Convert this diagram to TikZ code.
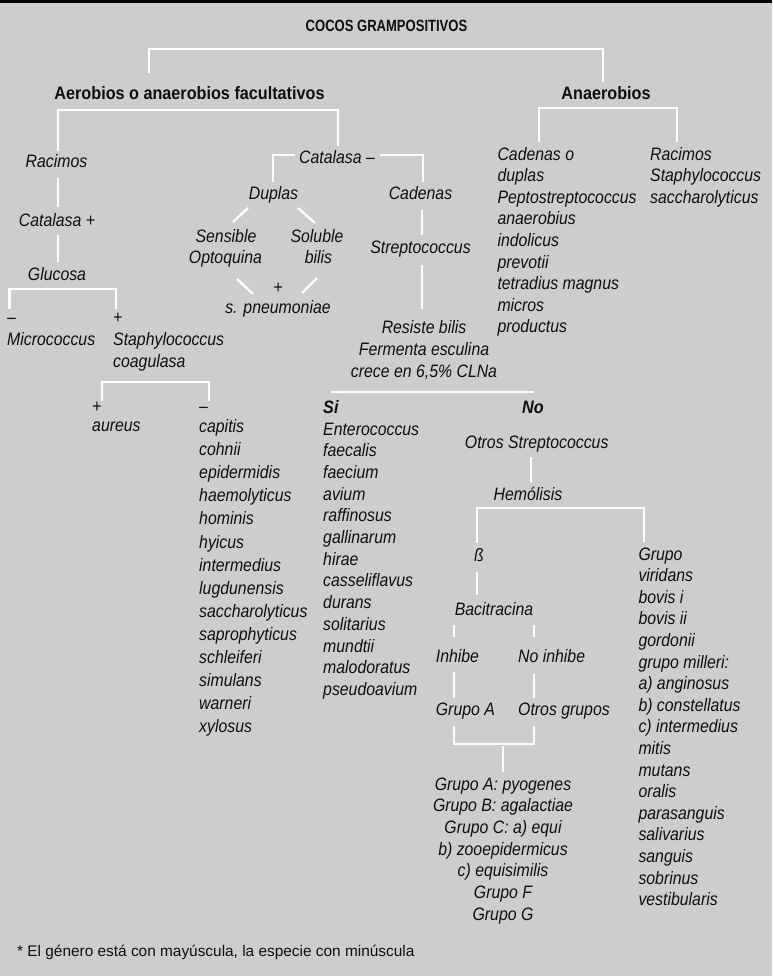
\documentclass[tikz,border=0pt]{standalone}
\usepackage{fontspec}
\setmainfont[FakeStretch=0.88]{Liberation Sans}
\newfontfamily\hdfont[FakeStretch=0.9]{Liberation Sans}
\newfontfamily\ttlfont[FakeStretch=0.8]{Liberation Sans}
\newfontfamily\ftfont{Liberation Sans}
\definecolor{bgc}{RGB}{205,205,205}
\definecolor{ink}{RGB}{15,15,15}
\tikzset{
  it/.style={inner sep=0pt, text=ink, font=\fontsize{18}{21}\selectfont\itshape},
  hd/.style={inner sep=0pt, text=ink, font=\hdfont\bfseries\fontsize{18}{21}\selectfont},
  hdit/.style={inner sep=0pt, text=ink, font=\hdfont\bfseries\itshape\fontsize{18}{21}\selectfont},
  ttl/.style={inner sep=0pt, text=ink, font=\ttlfont\bfseries\fontsize{16.3}{19}\selectfont},
  ft/.style={inner sep=0pt, text=ink, font=\ftfont\fontsize{15.4}{18}\selectfont},
  L/.style={anchor=base west},
  C/.style={anchor=base},
  wl/.style={draw=white, line width=2.3pt}
}
\begin{document}
\begin{tikzpicture}[x=1pt,y=-1pt]
\useasboundingbox (0,0) rectangle (772,976);
\fill[bgc] (0,0) rectangle (772,976);
\fill[black] (0,0) rectangle (772,3.5);

% ---------- texts ----------
\node[ttl,C] (title) at (386.5,32) {COCOS GRAMPOSITIVOS};
\node[hd,C] (aer) at (189.5,100) {Aerobios o anaerobios facultativos};
\node[hd,C] (anaer) at (606,100) {Anaerobios};

\node[it,C] (racimos) at (56.5,168) {Racimos};
\node[it,C] (catp) at (57,226) {Catalasa +};
\node[it,C] (gluc) at (57,280) {Glucosa};
\node[it,L] (minA) at (7,323) {–};
\node[it,L] (micro) at (7,345) {Micrococcus};
\node[it,L] (plusA) at (113,323) {+};
\node[it,L] (staph) at (113,345) {Staphylococcus};
\node[it,L] (coag) at (113,367) {coagulasa};
\node[it,L] (plusB) at (92,412) {+};
\node[it,L] (aureus) at (92,431.5) {aureus};
\node[it,L] (minB) at (199,412) {–};
\foreach \t [count=\i from 0] in {capitis,cohnii,epidermidis,haemolyticus,hominis,hyicus,intermedius,lugdunensis,saccharolyticus,saprophyticus,schleiferi,simulans,warneri,xylosus}
  \node[it,L] (neg\i) at (199,{432.5+23.1*\i}) {\t};

\node[it,L] (catm) at (299,164) {Catalasa –};
\node[it,C] (duplas) at (273.5,199.5) {Duplas};
\node[it,C] (cadenas) at (420.5,200) {Cadenas};
\node[it,C] (sens) at (226,242) {Sensible};
\node[it,C] (opto) at (225.5,263) {Optoquina};
\node[it,C] (solu) at (317,242) {Soluble};
\node[it,C] (bilis) at (318.5,263) {bilis};
\node[it,C] (plusC) at (278,293) {+};
\node[it,C] (pneu) at (278,313) {s. pneumoniae};
\node[it,C] (strep) at (420.5,253) {Streptococcus};
\node[it,C] (resi) at (424,333) {Resiste bilis};
\node[it,C] (ferm) at (424,355) {Fermenta esculina};
\node[it,C] (crece) at (424,377) {crece en 6,5\% CLNa};

\node[hdit,L] (si) at (323,413) {Si};
\foreach \t [count=\i from 0] in {Enterococcus,faecalis,faecium,avium,raffinosus,gallinarum,hirae,casseliflavus,durans,solitarius,mundtii,malodoratus,pseudoavium}
  \node[it,L] (si\i) at (323,{435+21.7*\i}) {\t};
\node[hdit,C] (no) at (533,413) {No};
\node[it,C] (otros) at (536.7,448) {Otros Streptococcus};
\node[it,C] (hemo) at (528,500) {Hemólisis};
\node[it,C] (beta) at (479,561.7) {ß};
\node[it,C] (baci) at (494,615) {Bacitracina};
\node[it,L] (inh) at (435.7,662.7) {Inhibe};
\node[it,L] (noinh) at (518,662.7) {No inhibe};
\node[it,L] (grA) at (435.7,715) {Grupo A};
\node[it,L] (otrgr) at (518,715) {Otros grupos};
\foreach \t [count=\i from 0] in {Grupo A: pyogenes,Grupo B: agalactiae,Grupo C: a) equi,b) zooepidermicus,c) equisimilis,Grupo F,Grupo G}
  \node[it,C] (gr\i) at (503,{790+21.7*\i}) {\t};
\foreach \t [count=\i from 0] in {Grupo,viridans,bovis i,bovis ii,gordonii,grupo milleri:,a) anginosus,b) constellatus,c) intermedius,mitis,mutans,oralis,parasanguis,salivarius,sanguis,sobrinus,vestibularis}
  \node[it,L] (vir\i) at (638.3,{560+21.6*\i}) {\t};

\foreach \t [count=\i from 0] in {Cadenas o,duplas,Peptostreptococcus,anaerobius,indolicus,prevotii,tetradius magnus,micros,productus}
  \node[it,L] (pep\i) at (497.3,{160.5+21.5*\i}) {\t};
\foreach \t [count=\i from 0] in {Racimos,Staphylococcus,saccharolyticus}
  \node[it,L] (sac\i) at (650,{160.5+21.5*\i}) {\t};

\node[ft,L] (foot) at (17,956.7) {* El género está con mayúscula, la especie con minúscula};

% ---------- junction coordinates ----------
\coordinate (tA) at (149,73);  \coordinate (tB) at (149,49);
\coordinate (tC) at (603,49);  \coordinate (tD) at (603,82);
\coordinate (aA) at (58,151);  \coordinate (aB) at (58,110);
\coordinate (aC) at (338,110); \coordinate (aD) at (338,146);
\coordinate (r1) at (58,178);  \coordinate (r2) at (58,207);
\coordinate (r3) at (58,235);  \coordinate (r4) at (58,262);
\coordinate (gA) at (9.5,309); \coordinate (gB) at (9.5,289);
\coordinate (gC) at (116,289); \coordinate (gD) at (116,309);
\coordinate (sA) at (102,401); \coordinate (sB) at (102,382);
\coordinate (sC) at (209,382); \coordinate (sD) at (209,401);
\coordinate (cA) at (295,155); \coordinate (cB) at (273,155); \coordinate (cC) at (273,182);
\coordinate (cD) at (380,155); \coordinate (cE) at (423,155); \coordinate (cF) at (423,182);
\coordinate (d1) at (248,208); \coordinate (d2) at (233,222);
\coordinate (d3) at (298,208); \coordinate (d4) at (315,223);
\coordinate (d5) at (237,279); \coordinate (d6) at (253,294);
\coordinate (d7) at (317,278); \coordinate (d8) at (302,293);
\coordinate (k1) at (422,210); \coordinate (k2) at (422,235);
\coordinate (k3) at (422,265); \coordinate (k4) at (422,309);
\coordinate (hA) at (331,392); \coordinate (hB) at (534,392);
\coordinate (nA) at (539,142); \coordinate (nB) at (539,108);
\coordinate (nC) at (677,108); \coordinate (nD) at (677,142);
\coordinate (o1) at (531,457); \coordinate (o2) at (531,482);
\coordinate (mA) at (477,543); \coordinate (mB) at (477,508);
\coordinate (mC) at (644,508); \coordinate (mD) at (644,542);
\coordinate (b1) at (477,572); \coordinate (b2) at (477,595);
\coordinate (i1) at (454,625); \coordinate (i2) at (454,637);
\coordinate (i3) at (534,625); \coordinate (i4) at (534,637);
\coordinate (i5) at (454,672); \coordinate (i6) at (454,698);
\coordinate (i7) at (534,674); \coordinate (i8) at (534,698);
\coordinate (qA) at (454,726); \coordinate (qB) at (454,744);
\coordinate (qC) at (534,744); \coordinate (qD) at (534,726);
\coordinate (q1) at (503,746); \coordinate (q2) at (503,772);

% ---------- connectors ----------
\draw[wl] (tA) -- (tB) -- (tC) -- (tD);
\draw[wl] (aA) -- (aB) -- (aC) -- (aD);
\draw[wl] (r1) -- (r2);
\draw[wl] (r3) -- (r4);
\draw[wl] (gA) -- (gB) -- (gC) -- (gD);
\draw[wl] (sA) -- (sB) -- (sC) -- (sD);
\draw[wl] (cA) -- (cB) -- (cC);
\draw[wl] (cD) -- (cE) -- (cF);
\draw[wl] (d1) -- (d2);
\draw[wl] (d3) -- (d4);
\draw[wl] (d5) -- (d6);
\draw[wl] (d7) -- (d8);
\draw[wl] (k1) -- (k2);
\draw[wl] (k3) -- (k4);
\draw[wl] (hA) -- (hB);
\draw[wl] (nA) -- (nB) -- (nC) -- (nD);
\draw[wl] (o1) -- (o2);
\draw[wl] (mA) -- (mB) -- (mC) -- (mD);
\draw[wl] (b1) -- (b2);
\draw[wl] (i1) -- (i2);
\draw[wl] (i3) -- (i4);
\draw[wl] (i5) -- (i6);
\draw[wl] (i7) -- (i8);
\draw[wl] (qA) -- (qB) -- (qC) -- (qD);
\draw[wl] (q1) -- (q2);
\end{tikzpicture}
\end{document}
